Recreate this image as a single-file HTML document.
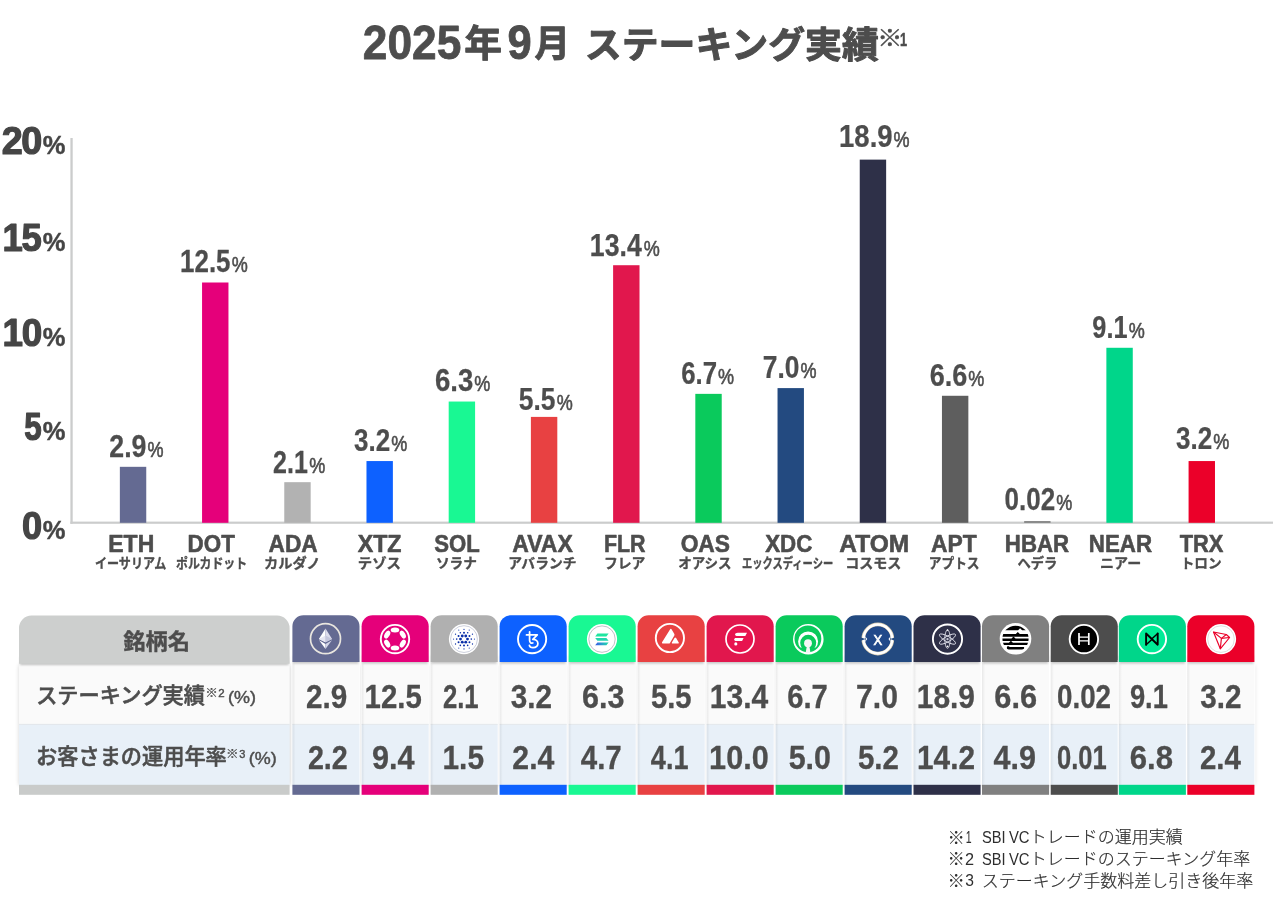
<!DOCTYPE html>
<html lang="ja"><head><meta charset="utf-8"><title>2025年9月 ステーキング実績</title>
<style>
html,body{margin:0;padding:0;background:#fff;}
body{width:1273px;height:917px;overflow:hidden;}
svg{display:block;font-family:"Liberation Sans","Noto Sans CJK JP",sans-serif;}
</style></head><body>
<svg width="1273" height="917" viewBox="0 0 1273 917">
<g id="title">
<text transform="translate(362.87,59.00) scale(0.9147,1)" font-size="48.4" font-weight="bold" fill="#4d4d4d" stroke="#4d4d4d" stroke-width="0.8" stroke-linejoin="round">2025</text>
<text transform="translate(464.13,57.40) scale(1.0142,1)" font-size="37.2" font-weight="bold" fill="#4d4d4d" stroke="#4d4d4d" stroke-width="0.9" stroke-linejoin="round">年</text>
<text transform="translate(507.50,59.00) scale(0.8981,1)" font-size="48.4" font-weight="bold" fill="#4d4d4d" stroke="#4d4d4d" stroke-width="0.8" stroke-linejoin="round">9</text>
<text transform="translate(534.54,57.40) scale(0.9547,1)" font-size="37.2" font-weight="bold" fill="#4d4d4d" stroke="#4d4d4d" stroke-width="0.9" stroke-linejoin="round">月</text>
<text x="584.8" y="57.5" text-anchor="start" font-size="36.9" font-weight="bold" fill="#4d4d4d" stroke="#4d4d4d" stroke-width="1.0" stroke-linejoin="round">ステーキング実績</text>
<text transform="translate(877.29,46.40) scale(1.0975,1)" font-size="23.0" font-weight="bold" fill="#4d4d4d" stroke="#4d4d4d" stroke-width="0.4" stroke-linejoin="round">※</text>
<text transform="translate(899.98,46.00) scale(0.6719,1)" font-size="19" font-weight="bold" fill="#4d4d4d" stroke="#4d4d4d" stroke-width="0.5" stroke-linejoin="round">1</text>
</g>
<g id="axes">
<rect x="70.4" y="138" width="2.3" height="385.8" fill="#cbcccc"/>
<rect x="70.4" y="521.6" width="1203" height="2.2" fill="#cbcccc"/>
<text transform="translate(1.67,154.40) scale(0.9934,1)" font-size="38.0" font-weight="bold" fill="#454545" stroke="#454545" stroke-width="1.2" stroke-linejoin="round" letter-spacing="-1.5">20</text>
<text transform="translate(42.71,154.40) scale(1.0080,1)" font-size="25.3" font-weight="bold" fill="#454545" stroke="#454545" stroke-width="0.45" stroke-linejoin="round">%</text>
<text transform="translate(2.61,250.60) scale(0.9602,1)" font-size="38.0" font-weight="bold" fill="#454545" stroke="#454545" stroke-width="1.2" stroke-linejoin="round" letter-spacing="-1.5">15</text>
<text transform="translate(42.71,250.60) scale(1.0080,1)" font-size="25.3" font-weight="bold" fill="#454545" stroke="#454545" stroke-width="0.45" stroke-linejoin="round">%</text>
<text transform="translate(2.59,346.40) scale(0.9700,1)" font-size="38.0" font-weight="bold" fill="#454545" stroke="#454545" stroke-width="1.2" stroke-linejoin="round" letter-spacing="-1.5">10</text>
<text transform="translate(42.71,346.40) scale(1.0080,1)" font-size="25.3" font-weight="bold" fill="#454545" stroke="#454545" stroke-width="0.45" stroke-linejoin="round">%</text>
<text transform="translate(24.16,439.80) scale(0.8263,1)" font-size="38.0" font-weight="bold" fill="#454545" stroke="#454545" stroke-width="1.2" stroke-linejoin="round" letter-spacing="-1.5">5</text>
<text transform="translate(42.71,439.80) scale(1.0080,1)" font-size="25.3" font-weight="bold" fill="#454545" stroke="#454545" stroke-width="0.45" stroke-linejoin="round">%</text>
<text transform="translate(21.93,538.60) scale(0.9550,1)" font-size="38.0" font-weight="bold" fill="#454545" stroke="#454545" stroke-width="1.2" stroke-linejoin="round" letter-spacing="-1.5">0</text>
<text transform="translate(42.71,538.60) scale(1.0080,1)" font-size="25.3" font-weight="bold" fill="#454545" stroke="#454545" stroke-width="0.45" stroke-linejoin="round">%</text>
</g>
<g id="bars">
<rect x="119.85" y="466.82" width="26.4" height="55.98" fill="#646a92"/>
<text transform="translate(109.32,457.00) scale(0.8681,1)" font-size="30.8" font-weight="bold" fill="#4d4d4d" stroke="#4d4d4d" stroke-width="0.25" stroke-linejoin="round">2.9</text>
<text transform="translate(147.52,457.00) scale(0.7986,1)" font-size="22.6" font-weight="normal" fill="#4d4d4d" stroke="#4d4d4d" stroke-width="0.6" stroke-linejoin="round">%</text>
<text transform="translate(108.31,552.30) scale(0.9261,1)" font-size="24.8" font-weight="bold" fill="#4d4d4d" stroke="#4d4d4d" stroke-width="0.6" stroke-linejoin="round">ETH</text>
<text transform="translate(94.95,568.30) scale(0.8875,1)" font-size="13.6" font-weight="bold" fill="#4d4d4d" stroke="#4d4d4d" stroke-width="0.35" stroke-linejoin="round">イーサリアム</text>
<rect x="202.06" y="282.50" width="26.4" height="240.30" fill="#e5007a"/>
<text transform="translate(180.07,272.00) scale(0.8422,1)" font-size="30.8" font-weight="bold" fill="#4d4d4d" stroke="#4d4d4d" stroke-width="0.25" stroke-linejoin="round">12.5</text>
<text transform="translate(231.87,272.00) scale(0.7986,1)" font-size="22.6" font-weight="normal" fill="#4d4d4d" stroke="#4d4d4d" stroke-width="0.6" stroke-linejoin="round">%</text>
<text transform="translate(187.60,552.30) scale(0.9023,1)" font-size="24.8" font-weight="bold" fill="#4d4d4d" stroke="#4d4d4d" stroke-width="0.6" stroke-linejoin="round">DOT</text>
<text transform="translate(176.01,568.30) scale(0.8777,1)" font-size="13.6" font-weight="bold" fill="#4d4d4d" stroke="#4d4d4d" stroke-width="0.35" stroke-linejoin="round">ポルカドット</text>
<rect x="284.27" y="482.18" width="26.4" height="40.62" fill="#b2b2b2"/>
<text transform="translate(273.12,472.50) scale(0.8129,1)" font-size="30.8" font-weight="bold" fill="#4d4d4d" stroke="#4d4d4d" stroke-width="0.25" stroke-linejoin="round">2.1</text>
<text transform="translate(309.27,472.50) scale(0.7986,1)" font-size="22.6" font-weight="normal" fill="#4d4d4d" stroke="#4d4d4d" stroke-width="0.6" stroke-linejoin="round">%</text>
<text transform="translate(268.60,552.30) scale(0.9139,1)" font-size="24.8" font-weight="bold" fill="#4d4d4d" stroke="#4d4d4d" stroke-width="0.6" stroke-linejoin="round">ADA</text>
<text transform="translate(264.04,568.30) scale(1.0457,1)" font-size="13.6" font-weight="bold" fill="#4d4d4d" stroke="#4d4d4d" stroke-width="0.35" stroke-linejoin="round">カルダノ</text>
<rect x="366.48" y="461.06" width="26.4" height="61.74" fill="#0d61ff"/>
<text transform="translate(354.11,451.25) scale(0.8433,1)" font-size="30.8" font-weight="bold" fill="#4d4d4d" stroke="#4d4d4d" stroke-width="0.25" stroke-linejoin="round">3.2</text>
<text transform="translate(391.27,451.25) scale(0.7986,1)" font-size="22.6" font-weight="normal" fill="#4d4d4d" stroke="#4d4d4d" stroke-width="0.6" stroke-linejoin="round">%</text>
<text transform="translate(357.68,552.30) scale(0.9365,1)" font-size="24.8" font-weight="bold" fill="#4d4d4d" stroke="#4d4d4d" stroke-width="0.6" stroke-linejoin="round">XTZ</text>
<text transform="translate(357.77,568.30) scale(1.0571,1)" font-size="13.6" font-weight="bold" fill="#4d4d4d" stroke="#4d4d4d" stroke-width="0.35" stroke-linejoin="round">テゾス</text>
<rect x="448.69" y="401.54" width="26.4" height="121.26" fill="#19f893"/>
<text transform="translate(434.91,391.25) scale(0.8960,1)" font-size="30.8" font-weight="bold" fill="#4d4d4d" stroke="#4d4d4d" stroke-width="0.25" stroke-linejoin="round">6.3</text>
<text transform="translate(474.27,391.25) scale(0.7986,1)" font-size="22.6" font-weight="normal" fill="#4d4d4d" stroke="#4d4d4d" stroke-width="0.6" stroke-linejoin="round">%</text>
<text transform="translate(434.25,552.30) scale(0.8930,1)" font-size="24.8" font-weight="bold" fill="#4d4d4d" stroke="#4d4d4d" stroke-width="0.6" stroke-linejoin="round">SOL</text>
<text transform="translate(435.94,568.30) scale(1.0071,1)" font-size="13.6" font-weight="bold" fill="#4d4d4d" stroke="#4d4d4d" stroke-width="0.35" stroke-linejoin="round">ソラナ</text>
<rect x="530.90" y="416.90" width="26.4" height="105.90" fill="#e84142"/>
<text transform="translate(518.83,409.50) scale(0.8555,1)" font-size="30.8" font-weight="bold" fill="#4d4d4d" stroke="#4d4d4d" stroke-width="0.25" stroke-linejoin="round">5.5</text>
<text transform="translate(556.77,409.50) scale(0.7986,1)" font-size="22.6" font-weight="normal" fill="#4d4d4d" stroke="#4d4d4d" stroke-width="0.6" stroke-linejoin="round">%</text>
<text transform="translate(512.34,552.30) scale(0.9279,1)" font-size="24.8" font-weight="bold" fill="#4d4d4d" stroke="#4d4d4d" stroke-width="0.6" stroke-linejoin="round">AVAX</text>
<text transform="translate(508.16,568.30) scale(1.0129,1)" font-size="13.6" font-weight="bold" fill="#4d4d4d" stroke="#4d4d4d" stroke-width="0.35" stroke-linejoin="round">アバランチ</text>
<rect x="613.11" y="265.22" width="26.4" height="257.58" fill="#e1174d"/>
<text transform="translate(589.83,256.30) scale(0.8655,1)" font-size="30.8" font-weight="bold" fill="#4d4d4d" stroke="#4d4d4d" stroke-width="0.25" stroke-linejoin="round">13.4</text>
<text transform="translate(643.67,256.30) scale(0.7986,1)" font-size="22.6" font-weight="normal" fill="#4d4d4d" stroke="#4d4d4d" stroke-width="0.6" stroke-linejoin="round">%</text>
<text transform="translate(603.91,552.30) scale(0.8642,1)" font-size="24.8" font-weight="bold" fill="#4d4d4d" stroke="#4d4d4d" stroke-width="0.6" stroke-linejoin="round">FLR</text>
<text transform="translate(603.95,568.30) scale(1.0172,1)" font-size="13.6" font-weight="bold" fill="#4d4d4d" stroke="#4d4d4d" stroke-width="0.35" stroke-linejoin="round">フレア</text>
<rect x="695.32" y="393.86" width="26.4" height="128.94" fill="#0aca5c"/>
<text transform="translate(681.22,384.25) scale(0.8376,1)" font-size="30.8" font-weight="bold" fill="#4d4d4d" stroke="#4d4d4d" stroke-width="0.25" stroke-linejoin="round">6.7</text>
<text transform="translate(718.02,384.25) scale(0.7986,1)" font-size="22.6" font-weight="normal" fill="#4d4d4d" stroke="#4d4d4d" stroke-width="0.6" stroke-linejoin="round">%</text>
<text transform="translate(680.64,552.30) scale(0.9193,1)" font-size="24.8" font-weight="bold" fill="#4d4d4d" stroke="#4d4d4d" stroke-width="0.6" stroke-linejoin="round">OAS</text>
<text transform="translate(678.18,568.30) scale(0.9908,1)" font-size="13.6" font-weight="bold" fill="#4d4d4d" stroke="#4d4d4d" stroke-width="0.35" stroke-linejoin="round">オアシス</text>
<rect x="777.53" y="388.10" width="26.4" height="134.70" fill="#234a80"/>
<text transform="translate(762.82,378.00) scale(0.8562,1)" font-size="30.8" font-weight="bold" fill="#4d4d4d" stroke="#4d4d4d" stroke-width="0.25" stroke-linejoin="round">7.0</text>
<text transform="translate(800.52,378.00) scale(0.7986,1)" font-size="22.6" font-weight="normal" fill="#4d4d4d" stroke="#4d4d4d" stroke-width="0.6" stroke-linejoin="round">%</text>
<text transform="translate(765.19,552.30) scale(0.8999,1)" font-size="24.8" font-weight="bold" fill="#4d4d4d" stroke="#4d4d4d" stroke-width="0.6" stroke-linejoin="round">XDC</text>
<text transform="translate(741.96,568.30) scale(0.7561,1)" font-size="13.6" font-weight="bold" fill="#4d4d4d" stroke="#4d4d4d" stroke-width="0.35" stroke-linejoin="round">エックスディーシー</text>
<rect x="859.74" y="159.62" width="26.4" height="363.18" fill="#2e3048"/>
<text transform="translate(839.08,147.30) scale(0.8924,1)" font-size="30.8" font-weight="bold" fill="#4d4d4d" stroke="#4d4d4d" stroke-width="0.25" stroke-linejoin="round">18.9</text>
<text transform="translate(893.57,147.30) scale(0.7986,1)" font-size="22.6" font-weight="normal" fill="#4d4d4d" stroke="#4d4d4d" stroke-width="0.6" stroke-linejoin="round">%</text>
<text transform="translate(839.31,552.30) scale(0.9889,1)" font-size="24.8" font-weight="bold" fill="#4d4d4d" stroke="#4d4d4d" stroke-width="0.6" stroke-linejoin="round">ATOM</text>
<text transform="translate(845.21,568.30) scale(1.0325,1)" font-size="13.6" font-weight="bold" fill="#4d4d4d" stroke="#4d4d4d" stroke-width="0.35" stroke-linejoin="round">コスモス</text>
<rect x="941.95" y="395.78" width="26.4" height="127.02" fill="#5e5e5e"/>
<text transform="translate(929.68,386.25) scale(0.8775,1)" font-size="30.8" font-weight="bold" fill="#4d4d4d" stroke="#4d4d4d" stroke-width="0.25" stroke-linejoin="round">6.6</text>
<text transform="translate(968.27,386.25) scale(0.7986,1)" font-size="22.6" font-weight="normal" fill="#4d4d4d" stroke="#4d4d4d" stroke-width="0.6" stroke-linejoin="round">%</text>
<text transform="translate(931.09,552.30) scale(0.9222,1)" font-size="24.8" font-weight="bold" fill="#4d4d4d" stroke="#4d4d4d" stroke-width="0.6" stroke-linejoin="round">APT</text>
<text transform="translate(928.78,568.30) scale(0.9329,1)" font-size="13.6" font-weight="bold" fill="#4d4d4d" stroke="#4d4d4d" stroke-width="0.35" stroke-linejoin="round">アプトス</text>
<rect x="1024.16" y="521.4" width="26.4" height="1.1" fill="#4d4d4d"/>
<text transform="translate(1004.62,510.00) scale(0.8441,1)" font-size="30.8" font-weight="bold" fill="#4d4d4d" stroke="#4d4d4d" stroke-width="0.25" stroke-linejoin="round">0.02</text>
<text transform="translate(1056.27,510.00) scale(0.7986,1)" font-size="22.6" font-weight="normal" fill="#4d4d4d" stroke="#4d4d4d" stroke-width="0.6" stroke-linejoin="round">%</text>
<text transform="translate(1004.85,552.30) scale(0.8965,1)" font-size="24.8" font-weight="bold" fill="#4d4d4d" stroke="#4d4d4d" stroke-width="0.6" stroke-linejoin="round">HBAR</text>
<text transform="translate(1017.44,568.30) scale(0.9791,1)" font-size="13.6" font-weight="bold" fill="#4d4d4d" stroke="#4d4d4d" stroke-width="0.35" stroke-linejoin="round">ヘデラ</text>
<rect x="1106.37" y="347.78" width="26.4" height="175.02" fill="#00d68a"/>
<text transform="translate(1092.37,337.50) scale(0.8214,1)" font-size="30.8" font-weight="bold" fill="#4d4d4d" stroke="#4d4d4d" stroke-width="0.25" stroke-linejoin="round">9.1</text>
<text transform="translate(1128.87,337.50) scale(0.7986,1)" font-size="22.6" font-weight="normal" fill="#4d4d4d" stroke="#4d4d4d" stroke-width="0.6" stroke-linejoin="round">%</text>
<text transform="translate(1088.85,552.30) scale(0.8999,1)" font-size="24.8" font-weight="bold" fill="#4d4d4d" stroke="#4d4d4d" stroke-width="0.6" stroke-linejoin="round">NEAR</text>
<text transform="translate(1100.09,568.30) scale(1.0278,1)" font-size="13.6" font-weight="bold" fill="#4d4d4d" stroke="#4d4d4d" stroke-width="0.35" stroke-linejoin="round">ニアー</text>
<rect x="1188.58" y="461.06" width="26.4" height="61.74" fill="#eb0029"/>
<text transform="translate(1176.01,449.40) scale(0.8433,1)" font-size="30.8" font-weight="bold" fill="#4d4d4d" stroke="#4d4d4d" stroke-width="0.25" stroke-linejoin="round">3.2</text>
<text transform="translate(1213.17,449.40) scale(0.7986,1)" font-size="22.6" font-weight="normal" fill="#4d4d4d" stroke="#4d4d4d" stroke-width="0.6" stroke-linejoin="round">%</text>
<text transform="translate(1179.68,552.30) scale(0.8805,1)" font-size="24.8" font-weight="bold" fill="#4d4d4d" stroke="#4d4d4d" stroke-width="0.6" stroke-linejoin="round">TRX</text>
<text transform="translate(1180.69,568.30) scale(1.0022,1)" font-size="13.6" font-weight="bold" fill="#4d4d4d" stroke="#4d4d4d" stroke-width="0.35" stroke-linejoin="round">トロン</text>
</g>
<defs><linearGradient id="solg" x1="0" y1="0" x2="1" y2="0"><stop offset="0" stop-color="#3a55e6"/><stop offset="0.55" stop-color="#2aa9c9"/><stop offset="1" stop-color="#1fe0a8"/></linearGradient><g id="ic0"><circle r="15" fill="none" stroke="#e9e6df" stroke-width="1.7"/>
<path d="M0 -10.3L-6.6 0.2L0 3.6Z" fill="#ffffff"/><path d="M0 -10.3L6.6 0.2L0 3.6Z" fill="#dcdcec"/>
<path d="M0 -3.2L-6.6 0.2L0 3.6Z" fill="#e6e6f2"/><path d="M0 -3.2L6.6 0.2L0 3.6Z" fill="#c4c6dc"/>
<path d="M-6.4 1.6L0 10.2L0 5.2Z" fill="#ffffff"/><path d="M6.4 1.6L0 10.2L0 5.2Z" fill="#d4d6e8"/></g><g id="ic1"><circle r="14.2" fill="none" stroke="#fff" stroke-width="1.9"/><ellipse cx="0" cy="-9" rx="4.3" ry="2.5" fill="#fff" transform="rotate(0)"/><ellipse cx="0" cy="-9" rx="4.3" ry="2.5" fill="#fff" transform="rotate(60)"/><ellipse cx="0" cy="-9" rx="4.3" ry="2.5" fill="#fff" transform="rotate(120)"/><ellipse cx="0" cy="-9" rx="4.3" ry="2.5" fill="#fff" transform="rotate(180)"/><ellipse cx="0" cy="-9" rx="4.3" ry="2.5" fill="#fff" transform="rotate(240)"/><ellipse cx="0" cy="-9" rx="4.3" ry="2.5" fill="#fff" transform="rotate(300)"/></g><g id="ic2"><circle r="15.1" fill="#fff"/><circle r="13.4" fill="none" stroke="#9aa0b8" stroke-width="0.5"/><g fill="#0a2fa8"><circle cx="3.50" cy="0.00" r="1.45"/><circle cx="1.75" cy="3.03" r="1.45"/><circle cx="-1.75" cy="3.03" r="1.45"/><circle cx="-3.50" cy="0.00" r="1.45"/><circle cx="-1.75" cy="-3.03" r="1.45"/><circle cx="1.75" cy="-3.03" r="1.45"/><circle cx="5.46" cy="3.15" r="1.0"/><circle cx="0.00" cy="6.30" r="1.0"/><circle cx="-5.46" cy="3.15" r="1.0"/><circle cx="-5.46" cy="-3.15" r="1.0"/><circle cx="-0.00" cy="-6.30" r="1.0"/><circle cx="5.46" cy="-3.15" r="1.0"/><circle cx="7.30" cy="0.00" r="0.8"/><circle cx="3.65" cy="6.32" r="0.8"/><circle cx="-3.65" cy="6.32" r="0.8"/><circle cx="-7.30" cy="0.00" r="0.8"/><circle cx="-3.65" cy="-6.32" r="0.8"/><circle cx="3.65" cy="-6.32" r="0.8"/><circle cx="8.49" cy="4.90" r="0.65"/><circle cx="0.00" cy="9.80" r="0.65"/><circle cx="-8.49" cy="4.90" r="0.65"/><circle cx="-8.49" cy="-4.90" r="0.65"/><circle cx="-0.00" cy="-9.80" r="0.65"/><circle cx="8.49" cy="-4.90" r="0.65"/><circle cx="10.40" cy="0.00" r="0.55"/><circle cx="5.20" cy="9.01" r="0.55"/><circle cx="-5.20" cy="9.01" r="0.55"/><circle cx="-10.40" cy="0.00" r="0.55"/><circle cx="-5.20" cy="-9.01" r="0.55"/><circle cx="5.20" cy="-9.01" r="0.55"/></g></g><g id="ic3"><circle r="14.1" fill="none" stroke="#fff" stroke-width="1.9"/>
<g fill="none" stroke="#fff" stroke-width="1.75" stroke-linecap="round" stroke-linejoin="round">
<path d="M-5.6 -4.2H5.2L0.7 0.3C7.3 0.2 7.6 8.5 0.9 8.5C-1 8.5 -2.5 7.6 -2.7 6.2"/>
<path d="M-2.5 -7.1V1.5C-2.5 3.4 -1 4.3 0.7 3.9"/></g></g><g id="ic4"><circle r="15.1" fill="#fff"/><circle r="13.2" fill="none" stroke="#8a8f98" stroke-width="0.55"/>
<path d="M-4.6 -5.7H6.6L4.4 -2.7H-6.8Z" fill="#1fe6a0"/>
<path d="M-6.8 -1.1H4.4L6.6 1.7H-4.6Z" fill="#22d6ae"/>
<path d="M-4.6 3.4H6.6L4.4 6.2H-6.8Z" fill="url(#solg)"/></g><g id="ic5"><circle r="14.1" fill="none" stroke="#fff" stroke-width="1.9"/>
<path d="M0.1 -8.6c0.5 -0.9 1.2 -0.9 1.7 0L4.3 -4.3c0.4 0.8 0.4 1.2 0 2L0.2 4.8c-0.4 0.6 -0.8 0.8 -1.6 0.8H-6.9c-1 0 -1.3 -0.6 -0.8 -1.5Z" fill="#fff"/>
<path d="M4.6 0.1c0.5 -0.8 1.1 -0.8 1.6 0L8.7 4.2c0.5 0.9 0.1 1.4 -0.8 1.4H2.9c-0.9 0 -1.3 -0.5 -0.8 -1.4Z" fill="#fff"/></g><g id="ic6"><circle r="14" fill="#e8134f" stroke="#fff" stroke-width="1.7"/>
<path d="M-2.3 -6.2H7L5.3 -3.1H-3.4c-2.2 0 -2.2 -3.1 1.1 -3.1Z" fill="#fff"/>
<path d="M-4.1 -0.9H3.6L2.1 1.9H-4.4c-2 0 -1.9 -2.8 0.3 -2.8Z" fill="#fff"/>
<circle cx="-4.2" cy="4.9" r="1.55" fill="#fff"/></g><g id="ic7"><path fill="#fff" fill-rule="evenodd" d="M-15.1 0.15a15.3 15.3 0 1 0 30.6 0a15.3 15.3 0 1 0 -30.6 0ZM-13.6 -0.3a13.4 13.4 0 1 0 26.8 0a13.4 13.4 0 1 0 -26.8 0Z"/>
<clipPath id="oac"><rect x="-12" y="-9" width="24" height="17.4"/></clipPath>
<path clip-path="url(#oac)" fill="#fff" fill-rule="evenodd" d="M-10 2.3a10 10 0 1 0 20 0a10 10 0 1 0 -20 0ZM-7.9 3.7a8 8 0 1 0 16 0a8 8 0 1 0 -16 0Z"/>
<circle cx="-0.1" cy="4.1" r="3.9" fill="#f6f6f6"/><path d="M-1.3 7.2H1.3L2.4 13.8H-2.5Z" fill="#f6f6f6"/></g><g id="ic8"><circle r="14.6" fill="#21498a" stroke="#d9ccb0" stroke-width="3.6"/>
<circle r="14.4" fill="none" stroke="#fff" stroke-width="2.5"/>
<path d="M-17 -1.4L-12.2 0.1L-17 1.7Z" fill="#234a80"/><path d="M-13 -3L-10.6 0.1L-13 3.2L-12 0.1Z" fill="#fff"/>
<path d="M17 -1.4L12.2 0.1L17 1.7Z" fill="#234a80"/><path d="M13 -3L10.6 0.1L13 3.2L12 0.1Z" fill="#fff"/>
<text x="0" y="5.5" text-anchor="middle" font-size="15.2" font-weight="normal" fill="#fff" stroke="#fff" stroke-width="0.7" transform="scale(0.86,1)">X</text></g><g id="ic9"><circle r="14.6" fill="none" stroke="#fff" stroke-width="1.9"/>
<g fill="none" stroke="#e4e5ee" stroke-width="0.85">
<ellipse rx="2.7" ry="9.2"/><ellipse rx="2.7" ry="9.2" transform="rotate(60)"/><ellipse rx="2.7" ry="9.2" transform="rotate(120)"/></g>
<circle r="1.2" fill="#c9cbd8"/><circle cx="0" cy="-9" r="0.8" fill="#fff"/><circle cx="0" cy="7.2" r="0.9" fill="#fff"/></g><g id="ic10"><circle r="15.8" fill="#fff"/><clipPath id="apc"><circle r="13.1"/></clipPath>
<g clip-path="url(#apc)" fill="#000">
<path d="M-14 -14H14V-8.6H6.6L4.6 -10.6L2.6 -8.6H-14Z"/>
<path d="M-14 -4.8H0.3L2.3 -6.9L4.3 -4.8H14V-2H-14Z"/>
<path d="M-14 -0.4H-4L-2 -2.4L0 -0.4H14V2.1H-14Z"/>
<path d="M-14 3.9H-6.6L-4.6 1.9L-2.6 3.9H14V6.3H-14Z"/>
<path d="M-8.6 8.3L-7.6 7.3L-5.6 8.3H8.6V10.7H-8.6Z"/></g></g><g id="ic11"><circle r="14.2" fill="#000" stroke="#fff" stroke-width="1.9"/>
<g fill="none" stroke="#fff"><path stroke-width="1.7" d="M-4.9 -6.2V6M4.9 -6.2V6"/><path stroke-width="1.25" d="M-4.9 -2H4.9M-4.9 1.7H4.9"/></g></g><g id="ic12"><circle r="14.2" fill="#00ec97" stroke="#fff" stroke-width="1.9"/>
<path d="M-5.8 5.6V-5.6L5.8 5.6V-5.6" fill="none" stroke="#000" stroke-width="1.9" stroke-linejoin="round" stroke-linecap="round"/>
<path d="M-5.8 5.6L-0.6 0.9M5.8 -5.6L0.6 -0.9" fill="none" stroke="#000" stroke-width="1.5" stroke-linecap="round"/></g><g id="ic13"><circle r="15.1" fill="#fff"/><circle r="13.3" fill="none" stroke="#c4c4c4" stroke-width="0.55"/>
<g fill="none" stroke="#eb0029" stroke-width="1.15" stroke-linejoin="round">
<path d="M-7.5 -7.1L5.3 -4.6L8.6 -1.6L-0.7 9.7Z"/><path d="M-7.5 -7.1L0.4 -0.7L5.3 -4.6"/><path d="M0.4 -0.7L-0.7 9.7"/><path d="M0.4 -0.7L8.6 -1.6"/></g></g></defs>
<defs><filter id="sh" x="-5%" y="-10%" width="110%" height="120%"><feGaussianBlur stdDeviation="2.2"/></filter><filter id="sh2" x="-10%" y="-100%" width="120%" height="300%"><feGaussianBlur stdDeviation="1.1"/></filter></defs>
<g id="table">
<linearGradient id="lsh" x1="0" y1="0" x2="1" y2="0"><stop offset="0" stop-color="#000" stop-opacity="0.07"/><stop offset="1" stop-color="#000" stop-opacity="0"/></linearGradient>
<rect x="19.0" y="665" width="270.6" height="120" fill="#000" opacity="0.16" filter="url(#sh)"/>
<rect x="292.4" y="665" width="962.0" height="120" fill="#000" opacity="0.16" filter="url(#sh)"/>
<rect x="19.0" y="662" width="270.6" height="62.3" fill="#fafafa"/>
<rect x="19.0" y="724.3" width="270.6" height="60.7" fill="#e8f0f8"/>
<rect x="19.0" y="723.9" width="270.6" height="0.9" fill="#e3e6ea"/>
<rect x="19.0" y="784.8" width="270.6" height="10" fill="#c9cbca"/>
<rect x="20.0" y="657" width="268.6" height="8" fill="#000" opacity="0.22" filter="url(#sh2)"/>
<path d="M19.0 663.8V628a12.5 12.5 0 0 1 12.5-12.5H277.1a12.5 12.5 0 0 1 12.5 12.5V663.8Z" fill="#cdcfce"/>
<text transform="translate(123.18,648.60) scale(1.0129,1)" font-size="22" font-weight="bold" fill="#4d4d4d" stroke="#4d4d4d" stroke-width="0.4" stroke-linejoin="round">銘柄名</text>
<text transform="translate(36.17,703.00) scale(0.9993,1)" font-size="21.2" font-weight="500" fill="#4d4d4d" stroke="#4d4d4d" stroke-width="0.55" stroke-linejoin="round">ステーキング実績</text>
<text transform="translate(36.07,763.90) scale(1.0001,1)" font-size="21.2" font-weight="500" fill="#4d4d4d" stroke="#4d4d4d" stroke-width="0.55" stroke-linejoin="round">お客さまの運用年率</text>
<text transform="translate(205.32,697.10) scale(1.0016,1)" font-size="12.6" font-weight="normal" fill="#4d4d4d" stroke="#4d4d4d" stroke-width="0.25" stroke-linejoin="round">※</text>
<text transform="translate(218.32,696.60) scale(0.9933,1)" font-size="11.6" font-weight="normal" fill="#4d4d4d" stroke="#4d4d4d" stroke-width="0.4" stroke-linejoin="round">2</text>
<text transform="translate(228.05,702.90) scale(1.0901,1)" font-size="16.5" font-weight="normal" fill="#4d4d4d" stroke="#4d4d4d" stroke-width="0.45" stroke-linejoin="round">(%)</text>
<text transform="translate(226.12,758.10) scale(1.0016,1)" font-size="12.6" font-weight="normal" fill="#4d4d4d" stroke="#4d4d4d" stroke-width="0.25" stroke-linejoin="round">※</text>
<text transform="translate(239.31,757.60) scale(0.9519,1)" font-size="11.6" font-weight="normal" fill="#4d4d4d" stroke="#4d4d4d" stroke-width="0.4" stroke-linejoin="round">3</text>
<text transform="translate(248.85,763.90) scale(1.0901,1)" font-size="16.5" font-weight="normal" fill="#4d4d4d" stroke="#4d4d4d" stroke-width="0.45" stroke-linejoin="round">(%)</text>
<rect x="291.40" y="660" width="69.1" height="125" fill="#ffffff"/>
<rect x="292.40" y="660" width="67.1" height="64.3" fill="#fafafa"/>
<rect x="292.40" y="724.3" width="67.1" height="60.7" fill="#e8f0f8"/>
<rect x="292.40" y="723.9" width="67.1" height="0.9" fill="#e3e6ea"/>
<rect x="292.40" y="662" width="3.2" height="123" fill="url(#lsh)"/>
<rect x="292.40" y="784.8" width="67.1" height="10" fill="#646a92"/>
<rect x="293.40" y="655.5" width="65.1" height="8" fill="#000" opacity="0.22" filter="url(#sh2)"/>
<path d="M292.40 661.9V626.2a11 11 0 0 1 11-11H348.50a11 11 0 0 1 11 11V661.9Z" fill="#646a92"/>
<text transform="translate(305.96,707.70) scale(0.8995,1)" font-size="33" font-weight="bold" fill="#4d4d4d" stroke="#4d4d4d" stroke-width="0.3" stroke-linejoin="round">2.9</text>
<text transform="translate(307.89,769.20) scale(0.8697,1)" font-size="33" font-weight="bold" fill="#4d4d4d" stroke="#4d4d4d" stroke-width="0.3" stroke-linejoin="round">2.2</text>
<use href="#ic0" x="325.5" y="638.7"/>
<rect x="360.60" y="660" width="69.1" height="125" fill="#ffffff"/>
<rect x="361.60" y="660" width="67.1" height="64.3" fill="#fafafa"/>
<rect x="361.60" y="724.3" width="67.1" height="60.7" fill="#e8f0f8"/>
<rect x="361.60" y="723.9" width="67.1" height="0.9" fill="#e3e6ea"/>
<rect x="361.60" y="662" width="3.2" height="123" fill="url(#lsh)"/>
<rect x="361.60" y="784.8" width="67.1" height="10" fill="#e5007a"/>
<rect x="362.60" y="655.5" width="65.1" height="8" fill="#000" opacity="0.22" filter="url(#sh2)"/>
<path d="M361.60 661.9V626.2a11 11 0 0 1 11-11H417.70a11 11 0 0 1 11 11V661.9Z" fill="#e5007a"/>
<text transform="translate(364.59,707.70) scale(0.8911,1)" font-size="33" font-weight="bold" fill="#4d4d4d" stroke="#4d4d4d" stroke-width="0.3" stroke-linejoin="round">12.5</text>
<text transform="translate(372.03,769.20) scale(0.9276,1)" font-size="33" font-weight="bold" fill="#4d4d4d" stroke="#4d4d4d" stroke-width="0.3" stroke-linejoin="round">9.4</text>
<use href="#ic1" x="395" y="639.1"/>
<rect x="429.60" y="660" width="69.1" height="125" fill="#ffffff"/>
<rect x="430.60" y="660" width="67.1" height="64.3" fill="#fafafa"/>
<rect x="430.60" y="724.3" width="67.1" height="60.7" fill="#e8f0f8"/>
<rect x="430.60" y="723.9" width="67.1" height="0.9" fill="#e3e6ea"/>
<rect x="430.60" y="662" width="3.2" height="123" fill="url(#lsh)"/>
<rect x="430.60" y="784.8" width="67.1" height="10" fill="#b0b0b0"/>
<rect x="431.60" y="655.5" width="65.1" height="8" fill="#000" opacity="0.22" filter="url(#sh2)"/>
<path d="M430.60 661.9V626.2a11 11 0 0 1 11-11H486.70a11 11 0 0 1 11 11V661.9Z" fill="#b0b0b0"/>
<text transform="translate(442.88,707.70) scale(0.7792,1)" font-size="33" font-weight="bold" fill="#4d4d4d" stroke="#4d4d4d" stroke-width="0.3" stroke-linejoin="round">2.1</text>
<text transform="translate(442.46,769.20) scale(0.9063,1)" font-size="33" font-weight="bold" fill="#4d4d4d" stroke="#4d4d4d" stroke-width="0.3" stroke-linejoin="round">1.5</text>
<use href="#ic2" x="464" y="639.1"/>
<rect x="498.60" y="660" width="69.1" height="125" fill="#ffffff"/>
<rect x="499.60" y="660" width="67.1" height="64.3" fill="#fafafa"/>
<rect x="499.60" y="724.3" width="67.1" height="60.7" fill="#e8f0f8"/>
<rect x="499.60" y="723.9" width="67.1" height="0.9" fill="#e3e6ea"/>
<rect x="499.60" y="662" width="3.2" height="123" fill="url(#lsh)"/>
<rect x="499.60" y="784.8" width="67.1" height="10" fill="#0d61ff"/>
<rect x="500.60" y="655.5" width="65.1" height="8" fill="#000" opacity="0.22" filter="url(#sh2)"/>
<path d="M499.60 661.9V626.2a11 11 0 0 1 11-11H555.70a11 11 0 0 1 11 11V661.9Z" fill="#0d61ff"/>
<text transform="translate(510.66,707.70) scale(0.8996,1)" font-size="33" font-weight="bold" fill="#4d4d4d" stroke="#4d4d4d" stroke-width="0.3" stroke-linejoin="round">3.2</text>
<text transform="translate(512.34,769.20) scale(0.9165,1)" font-size="33" font-weight="bold" fill="#4d4d4d" stroke="#4d4d4d" stroke-width="0.3" stroke-linejoin="round">2.4</text>
<use href="#ic3" x="532.1" y="639.1"/>
<rect x="567.60" y="660" width="69.1" height="125" fill="#ffffff"/>
<rect x="568.60" y="660" width="67.1" height="64.3" fill="#fafafa"/>
<rect x="568.60" y="724.3" width="67.1" height="60.7" fill="#e8f0f8"/>
<rect x="568.60" y="723.9" width="67.1" height="0.9" fill="#e3e6ea"/>
<rect x="568.60" y="662" width="3.2" height="123" fill="url(#lsh)"/>
<rect x="568.60" y="784.8" width="67.1" height="10" fill="#19f893"/>
<rect x="569.60" y="655.5" width="65.1" height="8" fill="#000" opacity="0.22" filter="url(#sh2)"/>
<path d="M568.60 661.9V626.2a11 11 0 0 1 11-11H624.70a11 11 0 0 1 11 11V661.9Z" fill="#19f893"/>
<text transform="translate(582.08,707.70) scale(0.9259,1)" font-size="33" font-weight="bold" fill="#4d4d4d" stroke="#4d4d4d" stroke-width="0.3" stroke-linejoin="round">6.3</text>
<text transform="translate(580.71,769.20) scale(0.8950,1)" font-size="33" font-weight="bold" fill="#4d4d4d" stroke="#4d4d4d" stroke-width="0.3" stroke-linejoin="round">4.7</text>
<use href="#ic4" x="602" y="639.1"/>
<rect x="636.60" y="660" width="69.1" height="125" fill="#ffffff"/>
<rect x="637.60" y="660" width="67.1" height="64.3" fill="#fafafa"/>
<rect x="637.60" y="724.3" width="67.1" height="60.7" fill="#e8f0f8"/>
<rect x="637.60" y="723.9" width="67.1" height="0.9" fill="#e3e6ea"/>
<rect x="637.60" y="662" width="3.2" height="123" fill="url(#lsh)"/>
<rect x="637.60" y="784.8" width="67.1" height="10" fill="#e84142"/>
<rect x="638.60" y="655.5" width="65.1" height="8" fill="#000" opacity="0.22" filter="url(#sh2)"/>
<path d="M637.60 661.9V626.2a11 11 0 0 1 11-11H693.70a11 11 0 0 1 11 11V661.9Z" fill="#e84142"/>
<text transform="translate(650.97,707.70) scale(0.8859,1)" font-size="33" font-weight="bold" fill="#4d4d4d" stroke="#4d4d4d" stroke-width="0.3" stroke-linejoin="round">5.5</text>
<text transform="translate(650.84,769.20) scale(0.8199,1)" font-size="33" font-weight="bold" fill="#4d4d4d" stroke="#4d4d4d" stroke-width="0.3" stroke-linejoin="round">4.1</text>
<use href="#ic5" x="669.9" y="638"/>
<rect x="705.60" y="660" width="69.1" height="125" fill="#ffffff"/>
<rect x="706.60" y="660" width="67.1" height="64.3" fill="#fafafa"/>
<rect x="706.60" y="724.3" width="67.1" height="60.7" fill="#e8f0f8"/>
<rect x="706.60" y="723.9" width="67.1" height="0.9" fill="#e3e6ea"/>
<rect x="706.60" y="662" width="3.2" height="123" fill="url(#lsh)"/>
<rect x="706.60" y="784.8" width="67.1" height="10" fill="#e1174d"/>
<rect x="707.60" y="655.5" width="65.1" height="8" fill="#000" opacity="0.22" filter="url(#sh2)"/>
<path d="M706.60 661.9V626.2a11 11 0 0 1 11-11H762.70a11 11 0 0 1 11 11V661.9Z" fill="#e1174d"/>
<text transform="translate(709.75,707.70) scale(0.9098,1)" font-size="33" font-weight="bold" fill="#4d4d4d" stroke="#4d4d4d" stroke-width="0.3" stroke-linejoin="round">13.4</text>
<text transform="translate(709.11,769.20) scale(0.9287,1)" font-size="33" font-weight="bold" fill="#4d4d4d" stroke="#4d4d4d" stroke-width="0.3" stroke-linejoin="round">10.0</text>
<use href="#ic6" x="740" y="639"/>
<rect x="774.60" y="660" width="69.1" height="125" fill="#ffffff"/>
<rect x="775.60" y="660" width="67.1" height="64.3" fill="#fafafa"/>
<rect x="775.60" y="724.3" width="67.1" height="60.7" fill="#e8f0f8"/>
<rect x="775.60" y="723.9" width="67.1" height="0.9" fill="#e3e6ea"/>
<rect x="775.60" y="662" width="3.2" height="123" fill="url(#lsh)"/>
<rect x="775.60" y="784.8" width="67.1" height="10" fill="#0aca5c"/>
<rect x="776.60" y="655.5" width="65.1" height="8" fill="#000" opacity="0.22" filter="url(#sh2)"/>
<path d="M775.60 661.9V626.2a11 11 0 0 1 11-11H831.70a11 11 0 0 1 11 11V661.9Z" fill="#0aca5c"/>
<text transform="translate(787.13,707.70) scale(0.8856,1)" font-size="33" font-weight="bold" fill="#4d4d4d" stroke="#4d4d4d" stroke-width="0.3" stroke-linejoin="round">6.7</text>
<text transform="translate(788.64,769.20) scale(0.9224,1)" font-size="33" font-weight="bold" fill="#4d4d4d" stroke="#4d4d4d" stroke-width="0.3" stroke-linejoin="round">5.0</text>
<use href="#ic7" x="808.1" y="639.1"/>
<rect x="843.60" y="660" width="69.1" height="125" fill="#ffffff"/>
<rect x="844.60" y="660" width="67.1" height="64.3" fill="#fafafa"/>
<rect x="844.60" y="724.3" width="67.1" height="60.7" fill="#e8f0f8"/>
<rect x="844.60" y="723.9" width="67.1" height="0.9" fill="#e3e6ea"/>
<rect x="844.60" y="662" width="3.2" height="123" fill="url(#lsh)"/>
<rect x="844.60" y="784.8" width="67.1" height="10" fill="#234a80"/>
<rect x="845.60" y="655.5" width="65.1" height="8" fill="#000" opacity="0.22" filter="url(#sh2)"/>
<path d="M844.60 661.9V626.2a11 11 0 0 1 11-11H900.70a11 11 0 0 1 11 11V661.9Z" fill="#234a80"/>
<text transform="translate(856.04,707.70) scale(0.9133,1)" font-size="33" font-weight="bold" fill="#4d4d4d" stroke="#4d4d4d" stroke-width="0.3" stroke-linejoin="round">7.0</text>
<text transform="translate(857.97,769.20) scale(0.8926,1)" font-size="33" font-weight="bold" fill="#4d4d4d" stroke="#4d4d4d" stroke-width="0.3" stroke-linejoin="round">5.2</text>
<use href="#ic8" x="877.85" y="639"/>
<rect x="912.50" y="660" width="69.1" height="125" fill="#ffffff"/>
<rect x="913.50" y="660" width="67.1" height="64.3" fill="#fafafa"/>
<rect x="913.50" y="724.3" width="67.1" height="60.7" fill="#e8f0f8"/>
<rect x="913.50" y="723.9" width="67.1" height="0.9" fill="#e3e6ea"/>
<rect x="913.50" y="662" width="3.2" height="123" fill="url(#lsh)"/>
<rect x="913.50" y="784.8" width="67.1" height="10" fill="#2e3048"/>
<rect x="914.50" y="655.5" width="65.1" height="8" fill="#000" opacity="0.22" filter="url(#sh2)"/>
<path d="M913.50 661.9V626.2a11 11 0 0 1 11-11H969.60a11 11 0 0 1 11 11V661.9Z" fill="#2e3048"/>
<text transform="translate(916.75,707.70) scale(0.9074,1)" font-size="33" font-weight="bold" fill="#4d4d4d" stroke="#4d4d4d" stroke-width="0.3" stroke-linejoin="round">18.9</text>
<text transform="translate(917.06,769.20) scale(0.9025,1)" font-size="33" font-weight="bold" fill="#4d4d4d" stroke="#4d4d4d" stroke-width="0.3" stroke-linejoin="round">14.2</text>
<use href="#ic9" x="947.5" y="639.1"/>
<rect x="981.00" y="660" width="69.1" height="125" fill="#ffffff"/>
<rect x="982.00" y="660" width="67.1" height="64.3" fill="#fafafa"/>
<rect x="982.00" y="724.3" width="67.1" height="60.7" fill="#e8f0f8"/>
<rect x="982.00" y="723.9" width="67.1" height="0.9" fill="#e3e6ea"/>
<rect x="982.00" y="662" width="3.2" height="123" fill="url(#lsh)"/>
<rect x="982.00" y="784.8" width="67.1" height="10" fill="#808080"/>
<rect x="983.00" y="655.5" width="65.1" height="8" fill="#000" opacity="0.22" filter="url(#sh2)"/>
<path d="M982.00 661.9V626.2a11 11 0 0 1 11-11H1038.10a11 11 0 0 1 11 11V661.9Z" fill="#808080"/>
<text transform="translate(994.37,707.70) scale(0.9328,1)" font-size="33" font-weight="bold" fill="#4d4d4d" stroke="#4d4d4d" stroke-width="0.3" stroke-linejoin="round">6.6</text>
<text transform="translate(993.49,769.20) scale(0.9256,1)" font-size="33" font-weight="bold" fill="#4d4d4d" stroke="#4d4d4d" stroke-width="0.3" stroke-linejoin="round">4.9</text>
<use href="#ic10" x="1015.5" y="638.8"/>
<rect x="1049.70" y="660" width="69.1" height="125" fill="#ffffff"/>
<rect x="1050.70" y="660" width="67.1" height="64.3" fill="#fafafa"/>
<rect x="1050.70" y="724.3" width="67.1" height="60.7" fill="#e8f0f8"/>
<rect x="1050.70" y="723.9" width="67.1" height="0.9" fill="#e3e6ea"/>
<rect x="1050.70" y="662" width="3.2" height="123" fill="url(#lsh)"/>
<rect x="1050.70" y="784.8" width="67.1" height="10" fill="#4d4d4d"/>
<rect x="1051.70" y="655.5" width="65.1" height="8" fill="#000" opacity="0.22" filter="url(#sh2)"/>
<path d="M1050.70 661.9V626.2a11 11 0 0 1 11-11H1106.80a11 11 0 0 1 11 11V661.9Z" fill="#4d4d4d"/>
<text transform="translate(1056.98,707.70) scale(0.8420,1)" font-size="33" font-weight="bold" fill="#4d4d4d" stroke="#4d4d4d" stroke-width="0.3" stroke-linejoin="round">0.02</text>
<text transform="translate(1057.06,769.20) scale(0.7748,1)" font-size="33" font-weight="bold" fill="#4d4d4d" stroke="#4d4d4d" stroke-width="0.3" stroke-linejoin="round">0.01</text>
<use href="#ic11" x="1083.9" y="639.1"/>
<rect x="1117.80" y="660" width="69.1" height="125" fill="#ffffff"/>
<rect x="1118.80" y="660" width="67.1" height="64.3" fill="#fafafa"/>
<rect x="1118.80" y="724.3" width="67.1" height="60.7" fill="#e8f0f8"/>
<rect x="1118.80" y="723.9" width="67.1" height="0.9" fill="#e3e6ea"/>
<rect x="1118.80" y="662" width="3.2" height="123" fill="url(#lsh)"/>
<rect x="1118.80" y="784.8" width="67.1" height="10" fill="#00d68a"/>
<rect x="1119.80" y="655.5" width="65.1" height="8" fill="#000" opacity="0.22" filter="url(#sh2)"/>
<path d="M1118.80 661.9V626.2a11 11 0 0 1 11-11H1174.90a11 11 0 0 1 11 11V661.9Z" fill="#00d68a"/>
<text transform="translate(1129.93,707.70) scale(0.8269,1)" font-size="33" font-weight="bold" fill="#4d4d4d" stroke="#4d4d4d" stroke-width="0.3" stroke-linejoin="round">9.1</text>
<text transform="translate(1129.66,769.20) scale(0.9440,1)" font-size="33" font-weight="bold" fill="#4d4d4d" stroke="#4d4d4d" stroke-width="0.3" stroke-linejoin="round">6.8</text>
<use href="#ic12" x="1151.9" y="639.1"/>
<rect x="1186.30" y="660" width="69.1" height="125" fill="#ffffff"/>
<rect x="1187.30" y="660" width="67.1" height="64.3" fill="#fafafa"/>
<rect x="1187.30" y="724.3" width="67.1" height="60.7" fill="#e8f0f8"/>
<rect x="1187.30" y="723.9" width="67.1" height="0.9" fill="#e3e6ea"/>
<rect x="1187.30" y="662" width="3.2" height="123" fill="url(#lsh)"/>
<rect x="1187.30" y="784.8" width="67.1" height="10" fill="#eb0029"/>
<rect x="1188.30" y="655.5" width="65.1" height="8" fill="#000" opacity="0.22" filter="url(#sh2)"/>
<path d="M1187.30 661.9V626.2a11 11 0 0 1 11-11H1243.40a11 11 0 0 1 11 11V661.9Z" fill="#eb0029"/>
<text transform="translate(1200.26,707.70) scale(0.8996,1)" font-size="33" font-weight="bold" fill="#4d4d4d" stroke="#4d4d4d" stroke-width="0.3" stroke-linejoin="round">3.2</text>
<text transform="translate(1199.97,769.20) scale(0.8919,1)" font-size="33" font-weight="bold" fill="#4d4d4d" stroke="#4d4d4d" stroke-width="0.3" stroke-linejoin="round">2.4</text>
<use href="#ic13" x="1221" y="639.1"/>
</g>
<g id="notes">
<text transform="translate(947.45,843.50) scale(0.9931,1)" font-size="17.5" font-weight="300" fill="#2e2e2e">※</text>
<text transform="translate(965.81,842.90) scale(0.6220,1)" font-size="17" font-weight="normal" fill="#2e2e2e">1</text>
<text transform="translate(982.04,842.90) scale(0.8631,1)" font-size="17" font-weight="normal" fill="#2e2e2e">SBI</text>
<text transform="translate(1008.90,842.90) scale(0.8745,1)" font-size="17" font-weight="normal" fill="#2e2e2e">VC</text>
<text transform="translate(1029.82,843.10) scale(1.0239,1)" font-size="16.6" font-weight="300" fill="#2e2e2e" stroke="#2e2e2e" stroke-width="0.2" stroke-linejoin="round">トレードの運用実績</text>
<text transform="translate(947.45,865.20) scale(0.9931,1)" font-size="17.5" font-weight="300" fill="#2e2e2e">※</text>
<text transform="translate(964.98,864.60) scale(0.9591,1)" font-size="17" font-weight="normal" fill="#2e2e2e">2</text>
<text transform="translate(982.04,864.60) scale(0.8631,1)" font-size="17" font-weight="normal" fill="#2e2e2e">SBI</text>
<text transform="translate(1008.90,864.60) scale(0.8745,1)" font-size="17" font-weight="normal" fill="#2e2e2e">VC</text>
<text transform="translate(1029.81,864.80) scale(1.0251,1)" font-size="16.6" font-weight="300" fill="#2e2e2e" stroke="#2e2e2e" stroke-width="0.2" stroke-linejoin="round">トレードのステーキング年率</text>
<text transform="translate(947.45,886.90) scale(0.9931,1)" font-size="17.5" font-weight="300" fill="#2e2e2e">※</text>
<text transform="translate(965.25,886.30) scale(0.9191,1)" font-size="17" font-weight="normal" fill="#2e2e2e">3</text>
<text transform="translate(981.63,886.50) scale(1.0253,1)" font-size="16.6" font-weight="300" fill="#2e2e2e" stroke="#2e2e2e" stroke-width="0.2" stroke-linejoin="round">ステーキング手数料差し引き後年率</text>
</g>
</svg>
</body></html>
